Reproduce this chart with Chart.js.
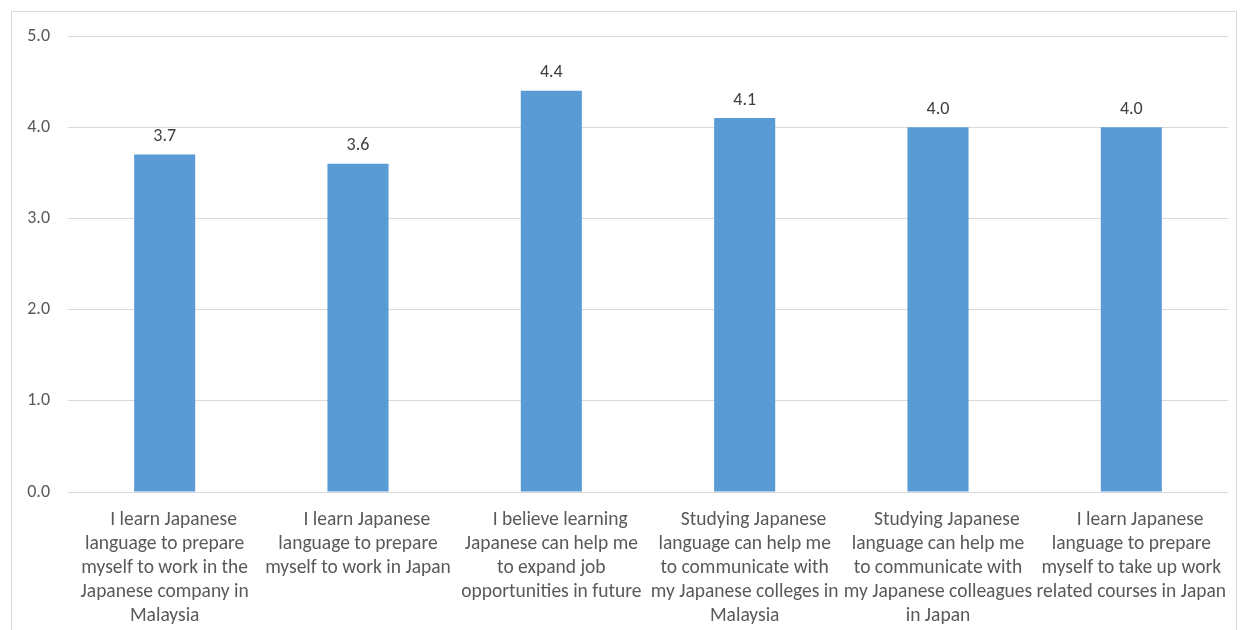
<!DOCTYPE html>
<html>
<head>
<meta charset="utf-8">
<script src="https://cdn.jsdelivr.net/npm/chart.js@4/dist/chart.umd.min.js"></script>
<style>
  body { margin: 0; background: #fff; }
  #wrap { position: absolute; left: 0; top: 0; width: 1240px; height: 630px; }
  #frame { position: absolute; left: 11px; top: 11px; width: 1226px; height: 640px; border: 1px solid #d9d9d9; box-sizing: border-box; }
</style>
</head>
<body>
<div id="wrap">
  <div id="frame"></div>
  <canvas id="chart" width="1240" height="630"></canvas>
</div>
<script>
// first lines carry leading spaces, as in the original labels
var categories = [
	["    I learn Japanese", "language to prepare", "myself to work in the", "Japanese company in", "Malaysia"],
	["    I learn Japanese", "language to prepare", "myself to work in Japan"],
	["    I believe learning", "Japanese can help me", "to expand job", "opportunities in future"],
	["    Studying Japanese", "language can help me", "to communicate with", "my Japanese colleges in", "Malaysia"],
	["    Studying Japanese", "language can help me", "to communicate with", "my Japanese colleagues", "in Japan"],
	["    I learn Japanese", "language to prepare", "myself to take up work", "related courses in Japan"]
];
var meanScores = [3.7, 3.6, 4.4, 4.1, 4.0, 4.0];
var yTicks = [0, 1, 2, 3, 4, 5];

var fontFamily = "Carlito, Calibri, 'Liberation Sans Narrow', 'Liberation Sans', sans-serif";

// labels above bars
var valueLabels = {
	id: "valueLabels",
	afterDatasetsDraw: function(chart) {
		var ctx = chart.ctx;
		var meta = chart.getDatasetMeta(0);
		ctx.save();
		ctx.fillStyle = "#404040";
		ctx.font = "18px " + fontFamily;
		ctx.textAlign = "center";
		ctx.textBaseline = "bottom";
		meta.data.forEach(function(bar, i) {
			ctx.fillText(meanScores[i].toFixed(1), bar.x, bar.y - 9);
		});
		ctx.restore();
	}
};

var chart = new Chart(document.getElementById("chart"), {
	type: "bar",
	data: {
		labels: categories,
		datasets: [{
			data: meanScores,
			backgroundColor: "#5b9bd5",
			categoryPercentage: 1,
			barPercentage: 0.316
		}]
	},
	options: {
		responsive: false,
		animation: false,
		layout: { padding: { left: 0, top: 36, right: 12, bottom: 0 } },
		plugins: { legend: { display: false }, tooltip: { enabled: false } },
		scales: {
			x: {
				grid: { display: false },
				border: { display: false },
				ticks: {
					autoSkip: false,
					maxRotation: 0,
					minRotation: 0,
					padding: 8,
					color: "#595959",
					font: { family: fontFamily, size: 19.5, lineHeight: 1.23 }
				},
				afterFit: function(scale) { scale.height = 138; }
			},
			y: {
				min: 0,
				max: 5,
				afterBuildTicks: function(scale) {
					scale.ticks = yTicks.map(function(v) { return { value: v }; });
				},
				grid: { color: "#d9d9d9", lineWidth: 1, drawTicks: false },
				border: { display: false },
				ticks: {
					padding: 18,
					color: "#595959",
					font: { family: fontFamily, size: 18 },
					callback: function(v) { return Number(v).toFixed(1); }
				},
				afterFit: function(scale) { scale.width = 68; }
			}
		}
	},
	plugins: [valueLabels]
});
</script>
</body>
</html>
